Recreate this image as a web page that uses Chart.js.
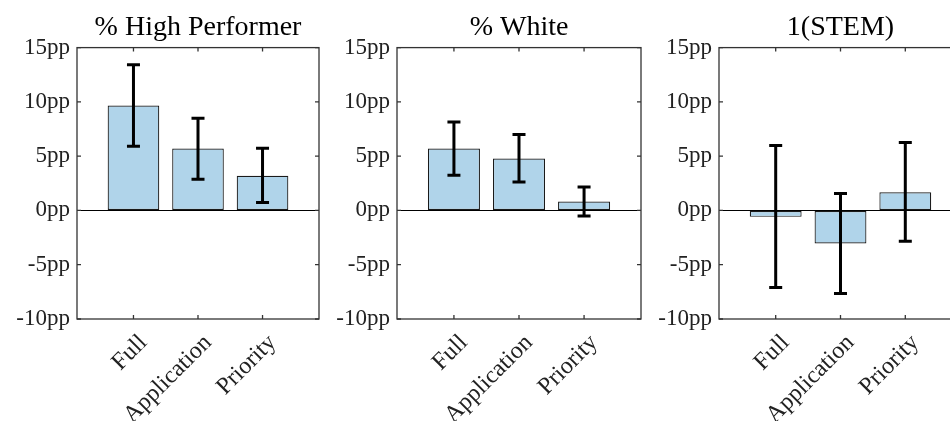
<!DOCTYPE html>
<html>
<head>
<meta charset="utf-8">
<script src="https://cdn.jsdelivr.net/npm/chart.js@4.4.1/dist/chart.umd.min.js"></script>
<style>
  html, body { margin: 0; padding: 0; background: #fff; overflow: hidden; }
  .panel { position: absolute; top: 0; height: 421px; }
</style>
</head>
<body>
<div class="panel" style="left:0px;width:320px"><canvas id="c1" width="320" height="421"></canvas></div>
<div class="panel" style="left:320px;width:322px"><canvas id="c2" width="322" height="421"></canvas></div>
<div class="panel" style="left:642px;width:320px"><canvas id="c3" width="320" height="421"></canvas></div>
<script>
// categorias del eje x (posiciones 1,2,3)
const categories = ['Full', 'Application', 'Priority'];
const categoryPos = [1, 2, 3];
const titles = ['% High Performer', '% White', '1(STEM)'];
const yTicks = [-10, -5, 0, 5, 10, 15];

// % High Performer
const highPerfValues = [9.66, 5.70, 3.19];
const highPerfLow = [5.92, 2.88, 0.74];
const highPerfHigh = [13.43, 8.49, 5.73];

// % White
const whiteValues = [5.70, 4.78, 0.83];
const whiteLow = [3.25, 2.63, -0.52];
const whiteHigh = [8.15, 6.99, 2.17];

// 1(STEM)
const stemValues = [-0.59, -3.04, 1.68];
const stemLow = [-7.09, -7.64, -2.83];
const stemHigh = [5.98, 1.56, 6.26];

const serif = "'Liberation Serif', 'Times New Roman', serif";
const boxColor = '#333333';

// caja, marcas interiores y barras de error
const errorBarsPlugin = {
  id: 'errorBars',
  afterDatasetsDraw(chart) {
    const { ctx, chartArea: a, scales: { x, y } } = chart;
    const ds = chart.data.datasets[0];
    const meta = chart.getDatasetMeta(0);
    ctx.save();
    ctx.strokeStyle = '#000';
    ctx.lineWidth = 3;
    meta.data.forEach((bar, i) => {
      const px = bar.x;
      const yLo = y.getPixelForValue(ds.errLow[i]);
      const yHi = y.getPixelForValue(ds.errHigh[i]);
      ctx.beginPath();
      ctx.moveTo(px, yLo); ctx.lineTo(px, yHi);
      ctx.moveTo(px - 6.5, yLo); ctx.lineTo(px + 6.5, yLo);
      ctx.moveTo(px - 6.5, yHi); ctx.lineTo(px + 6.5, yHi);
      ctx.stroke();
    });
    ctx.strokeStyle = boxColor;
    ctx.lineWidth = 1.3;
    ctx.strokeRect(a.left, a.top, a.right - a.left, a.bottom - a.top);
    ctx.beginPath();
    y.ticks.forEach(t => {
      const py = y.getPixelForValue(t.value);
      ctx.moveTo(a.left, py); ctx.lineTo(a.left + 4, py);
      ctx.moveTo(a.right, py); ctx.lineTo(a.right - 4, py);
    });
    x.ticks.forEach(t => {
      const px = x.getPixelForValue(t.value);
      ctx.moveTo(px, a.bottom); ctx.lineTo(px, a.bottom - 4);
      ctx.moveTo(px, a.top); ctx.lineTo(px, a.top + 4);
    });
    ctx.stroke();
    ctx.restore();
  }
};

function makePanel(id, title, values, low, high, padRight) {
  const ctx = document.getElementById(id).getContext('2d');
  new Chart(ctx, {
    type: 'bar',
    data: {
      datasets: [{
        data: categoryPos.map((p, i) => ({ x: p, y: values[i] })),
        errLow: low,
        errHigh: high,
        backgroundColor: '#b0d4ea',
        borderColor: '#1a1a1a',
        borderWidth: 1.2,
        borderSkipped: false,
        barPercentage: 0.8,
        categoryPercentage: 1.0
      }]
    },
    plugins: [errorBarsPlugin],
    options: {
      responsive: false,
      animation: false,
      layout: { padding: { left: 0, right: padRight, top: 0, bottom: 0 } },
      plugins: {
        legend: { display: false },
        tooltip: { enabled: false },
        title: {
          display: true,
          text: title,
          fullSize: false,
          color: '#000',
          font: { family: serif, size: 28, weight: 'normal' },
          padding: { top: 11, bottom: 3 }
        }
      },
      scales: {
        x: {
          type: 'linear',
          offset: false,
          min: 0.125,
          max: 3.875,
          afterBuildTicks: scale => {
            scale.ticks = categoryPos.map(v => ({ value: v }));
          },
          afterFit: scale => { scale.height = 102; },
          grid: { display: false },
          border: { display: false },
          ticks: {
            color: '#222',
            font: { family: serif, size: 24 },
            minRotation: 45,
            maxRotation: 45,
            padding: 2,
            labelOffset: 10,
            autoSkip: false,
            callback: v => categories[categoryPos.indexOf(v)]
          }
        },
        y: {
          min: -10,
          max: 15,
          afterBuildTicks: scale => {
            scale.ticks = yTicks.map(v => ({ value: v }));
          },
          afterFit: scale => { scale.width = 77; },
          border: { display: false },
          grid: {
            drawTicks: false,
            color: c => (c.tick && c.tick.value === 0 ? '#000' : 'rgba(0,0,0,0)'),
            lineWidth: 1
          },
          ticks: {
            color: '#222',
            font: { family: serif, size: 23 },
            padding: 7,
            callback: v => v + 'pp'
          }
        }
      }
    }
  });
}

makePanel('c1', titles[0], highPerfValues, highPerfLow, highPerfHigh, 1);
makePanel('c2', titles[1], whiteValues, whiteLow, whiteHigh, 1);
makePanel('c3', titles[2], stemValues, stemLow, stemHigh, 0);
</script>
</body>
</html>
